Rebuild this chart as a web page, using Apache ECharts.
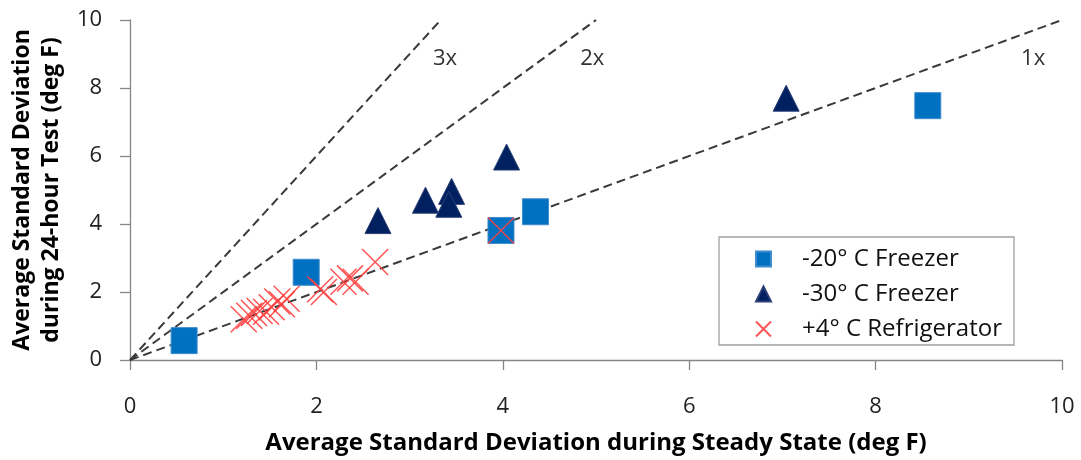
<!DOCTYPE html>
<html><head><meta charset="utf-8">
<script src="https://cdn.jsdelivr.net/npm/echarts@6/dist/echarts.min.js"></script>
<style>html,body{margin:0;padding:0;background:#fff}#c{width:1081px;height:460px}</style>
</head><body><div id="c"></div>
<script>
const seriesNames = ['-20° C Freezer', '-30° C Freezer', '+4° C Refrigerator'];
const freezer20 = [[0.58, 0.57], [1.89, 2.58], [3.98, 3.81], [4.35, 4.36], [8.56, 7.48]];
const freezer30 = [[2.66, 4.1], [3.17, 4.7], [3.45, 4.96], [3.42, 4.58], [4.04, 5.97], [7.04, 7.7]];
const fridge4 = [[1.22, 1.2], [1.28, 1.3], [1.33, 1.38], [1.39, 1.44], [1.46, 1.42], [1.52, 1.55],
  [1.58, 1.72], [1.63, 1.64], [1.68, 1.8], [2.04, 2.08], [2.08, 2.0], [2.29, 2.3], [2.36, 2.4],
  [2.42, 2.3], [2.63, 2.88], [3.98, 3.81]];
const ratios = [1, 2, 3];
const ratioLabels = ['1x', '2x', '3x'];
const ratioLabelPos = [[9.69, 8.86], [4.96, 8.86], [3.38, 8.86]];
const xTitle = 'Average Standard Deviation during Steady State (deg F)';
const yTitle = 'Average Standard Deviation\nduring 24-hour Test (deg F)';

const FONT = 'Open Sans';
const chart = echarts.init(document.getElementById('c'), null, {renderer: 'canvas'});

const lineSeries = ratios.map(r => ({
  type: 'line', silent: true, z: 1,
  data: [[0, 0], [10 / r, 10]],
  symbol: 'none',
  lineStyle: {color: '#3a3a3a', width: 2, type: [9, 5], opacity: 1},
  animation: false
}));

const labelSeries = {
  type: 'scatter', silent: true, z: 1,
  symbolSize: 0,
  itemStyle: {opacity: 1},
  data: ratioLabelPos.map((p, i) => ({value: p, name: ratioLabels[i]})),
  label: {show: true, position: 'inside', formatter: '{b}', color: '#333',
    fontFamily: FONT, fontSize: 22},
  animation: false
};

const xIcon = 'path://M0,0L10,10M10,0L0,10';

chart.setOption({
  animation: false,
  backgroundColor: '#fff',
  grid: {left: 130, right: 19, top: 20, bottom: 100},
  xAxis: {
    type: 'value', min: 0, max: 10, interval: 2,
    name: xTitle, nameLocation: 'middle', nameGap: 71,
    nameTextStyle: {fontFamily: FONT, fontWeight: 'bold', fontSize: 24, color: '#000'},
    axisLine: {show: true, lineStyle: {color: '#868686', width: 1.3}},
    axisTick: {show: true, length: 10, inside: false, lineStyle: {color: '#868686', width: 1.3}},
    axisLabel: {fontFamily: FONT, fontSize: 22, color: '#222', margin: 36},
    splitLine: {show: false}
  },
  yAxis: {
    type: 'value', min: 0, max: 10, interval: 2,
    name: yTitle, nameLocation: 'middle', nameGap: 63, nameRotate: 90,
    nameTextStyle: {fontFamily: FONT, fontWeight: 'bold', fontSize: 23, color: '#000', lineHeight: 29},
    axisLine: {show: true, lineStyle: {color: '#868686', width: 1.3}},
    axisTick: {show: true, length: 10, inside: false, lineStyle: {color: '#868686', width: 1.3}},
    axisLabel: {fontFamily: FONT, fontSize: 22, color: '#222', margin: 28},
    splitLine: {show: false}
  },
  legend: {
    data: seriesNames,
    orient: 'vertical',
    left: 719, top: 237,
    padding: [10, 12, 4, 36],
    itemGap: 11,
    itemWidth: 15, itemHeight: 15,
    borderColor: '#a0a0a0', borderWidth: 1.3,
    textStyle: {fontFamily: FONT, fontSize: 24, color: '#111', lineHeight: 24, padding: [0, 0, 0, 26]}
  },
  series: [
    ...lineSeries,
    labelSeries,
    {
      name: seriesNames[0], type: 'scatter', z: 3,
      data: freezer20, symbol: 'rect', symbolSize: 26,
      itemStyle: {color: '#0070C0', borderColor: '#3d8bcf', borderWidth: 1, opacity: 1}
    },
    {
      name: seriesNames[1], type: 'scatter', z: 3,
      data: freezer30, symbol: 'triangle', symbolSize: 26,
      itemStyle: {color: '#002060', borderColor: '#2a3f75', borderWidth: 1, opacity: 1}
    },
    {
      name: seriesNames[2], type: 'scatter', z: 4,
      data: fridge4, symbol: xIcon, symbolSize: 26,
      itemStyle: {color: 'rgba(0,0,0,0)', borderColor: '#FF4040', borderWidth: 1.5, opacity: 0.9}
    }
  ]
});
</script></body></html>
